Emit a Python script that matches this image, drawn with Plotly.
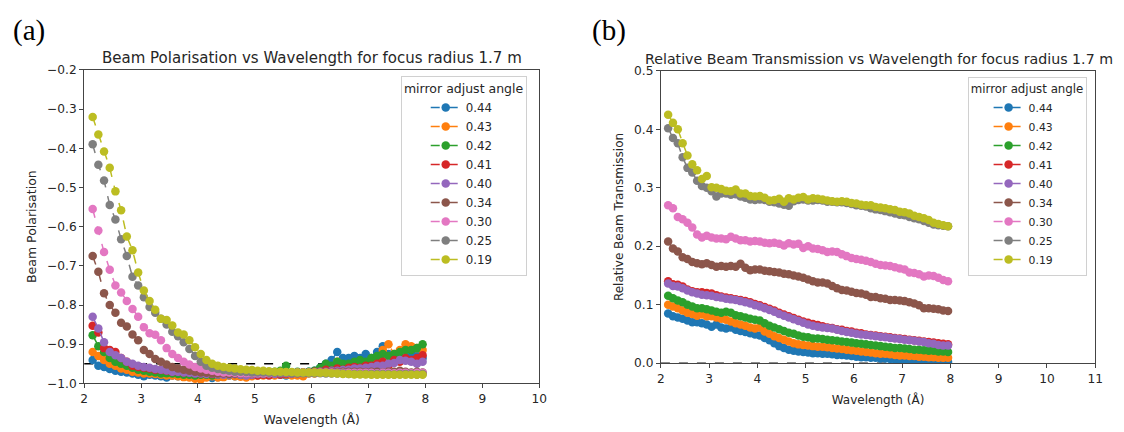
import plotly.graph_objects as go

wavelength = [2.15, 2.25, 2.35, 2.45, 2.55, 2.65, 2.75, 2.85, 2.95, 3.05,
              3.15, 3.25, 3.35, 3.45, 3.55, 3.65, 3.75, 3.85, 3.95, 4.05,
              4.15, 4.25, 4.35, 4.45, 4.55, 4.65, 4.75, 4.85, 4.95, 5.05,
              5.15, 5.25, 5.35, 5.45, 5.55, 5.65, 5.75, 5.85, 5.95, 6.05,
              6.15, 6.25, 6.35, 6.45, 6.55, 6.65, 6.75, 6.85, 6.95, 7.05,
              7.15, 7.25, 7.35, 7.45, 7.55, 7.65, 7.75, 7.85, 7.95]

angles = ["0.44", "0.43", "0.42", "0.41", "0.40", "0.34", "0.30", "0.25", "0.19"]
colors = ["#1f77b4", "#ff7f0e", "#2ca02c", "#d62728", "#9467bd",
          "#8c564b", "#e377c2", "#7f7f7f", "#bcbd22"]

# ---- Beam polarisation (panel a) ----
pol_044 = [-0.940, -0.955, -0.958, -0.963, -0.968, -0.970, -0.972, -0.975, -0.978, -0.982,
           -0.978, -0.980, -0.982, -0.985, -0.980, -0.982, -0.978, -0.980, -0.983, -0.985,
           -0.982, -0.986, -0.984, -0.982, -0.980, -0.982, -0.980, -0.978, -0.980, -0.978,
           -0.976, -0.978, -0.975, -0.978, -0.980, -0.976, -0.975, -0.972, -0.970, -0.968,
           -0.960, -0.950, -0.940, -0.920, -0.935, -0.935, -0.930, -0.935, -0.925, -0.935,
           -0.920, -0.905, -0.925, -0.935, -0.930, -0.935, -0.925, -0.930, -0.935]
pol_043 = [-0.920, -0.930, -0.940, -0.950, -0.955, -0.962, -0.965, -0.970, -0.972, -0.975,
           -0.975, -0.976, -0.978, -0.980, -0.980, -0.982, -0.984, -0.985, -0.988, -0.990,
           -0.985, -0.982, -0.985, -0.984, -0.980, -0.982, -0.983, -0.985, -0.982, -0.980,
           -0.980, -0.978, -0.980, -0.976, -0.978, -0.980, -0.980, -0.982, -0.975, -0.975,
           -0.972, -0.965, -0.960, -0.945, -0.960, -0.955, -0.950, -0.945, -0.950, -0.940,
           -0.935, -0.915, -0.900, -0.925, -0.915, -0.900, -0.905, -0.910, -0.915]
pol_042 = [-0.877, -0.905, -0.920, -0.935, -0.945, -0.950, -0.955, -0.960, -0.965, -0.968,
           -0.970, -0.972, -0.975, -0.974, -0.975, -0.976, -0.978, -0.978, -0.980, -0.978,
           -0.978, -0.980, -0.978, -0.976, -0.978, -0.976, -0.978, -0.975, -0.976, -0.972,
           -0.974, -0.972, -0.970, -0.968, -0.955, -0.972, -0.970, -0.972, -0.970, -0.968,
           -0.960, -0.950, -0.955, -0.945, -0.950, -0.950, -0.945, -0.940, -0.945, -0.935,
           -0.930, -0.925, -0.930, -0.925, -0.920, -0.915, -0.915, -0.910, -0.900]
pol_041 = [-0.853, -0.870, -0.910, -0.915, -0.920, -0.935, -0.945, -0.955, -0.958, -0.960,
           -0.962, -0.965, -0.966, -0.968, -0.970, -0.970, -0.972, -0.972, -0.974, -0.975,
           -0.975, -0.976, -0.975, -0.976, -0.975, -0.976, -0.976, -0.975, -0.978, -0.980,
           -0.978, -0.980, -0.976, -0.978, -0.976, -0.975, -0.974, -0.972, -0.972, -0.970,
           -0.970, -0.965, -0.968, -0.962, -0.965, -0.960, -0.958, -0.960, -0.955, -0.955,
           -0.950, -0.945, -0.955, -0.940, -0.945, -0.935, -0.940, -0.935, -0.928]
pol_040 = [-0.830, -0.860, -0.895, -0.920, -0.928, -0.935, -0.945, -0.950, -0.955, -0.958,
           -0.960, -0.963, -0.965, -0.967, -0.970, -0.970, -0.972, -0.973, -0.975, -0.975,
           -0.976, -0.975, -0.977, -0.978, -0.978, -0.976, -0.978, -0.980, -0.978, -0.976,
           -0.976, -0.975, -0.976, -0.975, -0.974, -0.975, -0.974, -0.973, -0.972, -0.972,
           -0.970, -0.970, -0.968, -0.968, -0.966, -0.965, -0.962, -0.962, -0.960, -0.958,
           -0.955, -0.955, -0.950, -0.948, -0.940, -0.942, -0.945, -0.950, -0.945]
pol_034 = [-0.675, -0.715, -0.770, -0.800, -0.820, -0.845, -0.855, -0.875, -0.890, -0.915,
           -0.925, -0.938, -0.945, -0.952, -0.958, -0.962, -0.965, -0.968, -0.970, -0.972,
           -0.973, -0.974, -0.975, -0.975, -0.976, -0.975, -0.975, -0.974, -0.975, -0.974,
           -0.974, -0.974, -0.973, -0.974, -0.973, -0.973, -0.972, -0.972, -0.972, -0.971,
           -0.971, -0.970, -0.970, -0.971, -0.970, -0.970, -0.970, -0.970, -0.971, -0.970,
           -0.970, -0.972, -0.970, -0.970, -0.968, -0.970, -0.972, -0.970, -0.972]
pol_030 = [-0.555, -0.610, -0.665, -0.710, -0.750, -0.768, -0.790, -0.810, -0.830, -0.857,
           -0.872, -0.876, -0.890, -0.910, -0.925, -0.935, -0.945, -0.952, -0.958, -0.962,
           -0.965, -0.968, -0.970, -0.972, -0.972, -0.973, -0.974, -0.974, -0.974, -0.974,
           -0.974, -0.974, -0.973, -0.973, -0.973, -0.973, -0.972, -0.972, -0.972, -0.972,
           -0.972, -0.972, -0.972, -0.973, -0.973, -0.973, -0.973, -0.973, -0.973, -0.973,
           -0.974, -0.973, -0.973, -0.974, -0.973, -0.973, -0.974, -0.973, -0.973]
pol_025 = [-0.390, -0.442, -0.482, -0.545, -0.582, -0.632, -0.675, -0.728, -0.750, -0.780,
           -0.805, -0.820, -0.835, -0.850, -0.868, -0.880, -0.895, -0.912, -0.930, -0.945,
           -0.955, -0.960, -0.963, -0.966, -0.968, -0.970, -0.970, -0.971, -0.972, -0.972,
           -0.972, -0.973, -0.973, -0.973, -0.973, -0.974, -0.974, -0.974, -0.974, -0.974,
           -0.974, -0.975, -0.975, -0.975, -0.975, -0.976, -0.976, -0.976, -0.976, -0.976,
           -0.976, -0.976, -0.976, -0.977, -0.976, -0.976, -0.976, -0.977, -0.976]
pol_019 = [-0.320, -0.365, -0.408, -0.450, -0.510, -0.558, -0.625, -0.660, -0.717, -0.763,
           -0.790, -0.812, -0.835, -0.838, -0.852, -0.870, -0.875, -0.890, -0.908, -0.925,
           -0.940, -0.950, -0.955, -0.958, -0.960, -0.962, -0.964, -0.965, -0.966, -0.968,
           -0.968, -0.969, -0.970, -0.970, -0.971, -0.971, -0.972, -0.972, -0.972, -0.972,
           -0.973, -0.973, -0.974, -0.975, -0.976, -0.976, -0.977, -0.977, -0.977, -0.978,
           -0.978, -0.978, -0.978, -0.978, -0.978, -0.978, -0.978, -0.978, -0.978]

# ---- Relative beam transmission (panel b) ----
tr_044 = [0.085, 0.080, 0.078, 0.076, 0.073, 0.070, 0.070, 0.068, 0.066, 0.062,
          0.066, 0.061, 0.059, 0.061, 0.057, 0.055, 0.053, 0.051, 0.049, 0.047,
          0.043, 0.039, 0.034, 0.029, 0.026, 0.023, 0.021, 0.020, 0.019, 0.018,
          0.017, 0.017, 0.016, 0.016, 0.015, 0.014, 0.014, 0.013, 0.012, 0.011,
          0.010, 0.010, 0.009, 0.009, 0.008, 0.008, 0.007, 0.006, 0.006, 0.005,
          0.005, 0.004, 0.004, 0.004, 0.003, 0.003, 0.003, 0.002, 0.002]
tr_043 = [0.100, 0.097, 0.094, 0.090, 0.086, 0.084, 0.081, 0.083, 0.080, 0.080,
          0.078, 0.076, 0.074, 0.071, 0.068, 0.066, 0.064, 0.061, 0.059, 0.061,
          0.054, 0.050, 0.046, 0.043, 0.040, 0.037, 0.034, 0.032, 0.031, 0.030,
          0.029, 0.028, 0.028, 0.027, 0.026, 0.025, 0.024, 0.023, 0.022, 0.021,
          0.020, 0.019, 0.018, 0.017, 0.016, 0.016, 0.015, 0.014, 0.013, 0.013,
          0.012, 0.012, 0.011, 0.011, 0.010, 0.010, 0.009, 0.009, 0.009]
tr_042 = [0.115, 0.111, 0.107, 0.104, 0.100, 0.097, 0.094, 0.094, 0.092, 0.090,
          0.088, 0.086, 0.088, 0.086, 0.082, 0.080, 0.078, 0.076, 0.074, 0.073,
          0.068, 0.064, 0.061, 0.058, 0.055, 0.052, 0.050, 0.047, 0.045, 0.044,
          0.042, 0.042, 0.041, 0.040, 0.039, 0.038, 0.037, 0.036, 0.035, 0.034,
          0.033, 0.032, 0.031, 0.030, 0.029, 0.028, 0.027, 0.026, 0.026, 0.025,
          0.024, 0.023, 0.023, 0.022, 0.021, 0.021, 0.020, 0.020, 0.019]
tr_041 = [0.140, 0.135, 0.134, 0.131, 0.126, 0.123, 0.121, 0.121, 0.120, 0.119,
          0.116, 0.114, 0.112, 0.111, 0.109, 0.108, 0.106, 0.104, 0.101, 0.099,
          0.096, 0.093, 0.090, 0.086, 0.083, 0.080, 0.077, 0.074, 0.071, 0.069,
          0.067, 0.065, 0.063, 0.061, 0.060, 0.058, 0.057, 0.055, 0.054, 0.052,
          0.051, 0.049, 0.048, 0.047, 0.046, 0.045, 0.044, 0.043, 0.042, 0.041,
          0.040, 0.039, 0.038, 0.037, 0.036, 0.035, 0.034, 0.033, 0.032]
tr_040 = [0.136, 0.132, 0.131, 0.128, 0.124, 0.121, 0.119, 0.117, 0.116, 0.115,
          0.113, 0.112, 0.110, 0.109, 0.108, 0.106, 0.104, 0.102, 0.099, 0.097,
          0.094, 0.091, 0.088, 0.084, 0.081, 0.078, 0.075, 0.072, 0.069, 0.066,
          0.064, 0.062, 0.061, 0.060, 0.059, 0.057, 0.055, 0.053, 0.052, 0.050,
          0.049, 0.048, 0.047, 0.046, 0.045, 0.044, 0.043, 0.042, 0.041, 0.040,
          0.039, 0.038, 0.037, 0.036, 0.034, 0.033, 0.031, 0.030, 0.030]
tr_034 = [0.208, 0.196, 0.191, 0.181, 0.178, 0.173, 0.171, 0.169, 0.171, 0.168,
          0.165, 0.166, 0.165, 0.166, 0.165, 0.170, 0.163, 0.159, 0.160, 0.160,
          0.158, 0.157, 0.156, 0.155, 0.153, 0.152, 0.150, 0.148, 0.146, 0.143,
          0.140, 0.138, 0.138, 0.136, 0.132, 0.128, 0.125, 0.124, 0.122, 0.120,
          0.119, 0.117, 0.113, 0.113, 0.111, 0.110, 0.108, 0.108, 0.107, 0.106,
          0.104, 0.102, 0.099, 0.094, 0.094, 0.093, 0.092, 0.090, 0.089]
tr_030 = [0.270, 0.265, 0.250, 0.246, 0.240, 0.232, 0.220, 0.215, 0.218, 0.215,
          0.213, 0.213, 0.212, 0.216, 0.213, 0.210, 0.210, 0.208, 0.209, 0.208,
          0.206, 0.205, 0.206, 0.204, 0.201, 0.205, 0.203, 0.204, 0.197, 0.200,
          0.196, 0.195, 0.193, 0.190, 0.191, 0.190, 0.186, 0.183, 0.180, 0.178,
          0.177, 0.175, 0.173, 0.170, 0.168, 0.167, 0.166, 0.164, 0.162, 0.160,
          0.155, 0.154, 0.152, 0.148, 0.150, 0.149, 0.146, 0.142, 0.140]
tr_025 = [0.402, 0.385, 0.376, 0.352, 0.334, 0.326, 0.312, 0.303, 0.300, 0.294,
          0.285, 0.290, 0.290, 0.288, 0.289, 0.285, 0.283, 0.280, 0.279, 0.280,
          0.279, 0.276, 0.275, 0.273, 0.271, 0.269, 0.277, 0.279, 0.280, 0.278,
          0.278, 0.279, 0.278, 0.276, 0.276, 0.275, 0.275, 0.274, 0.272, 0.270,
          0.269, 0.268, 0.265, 0.263, 0.262, 0.260, 0.258, 0.256, 0.254, 0.253,
          0.250, 0.248, 0.246, 0.243, 0.240, 0.237, 0.236, 0.235, 0.234]
tr_019 = [0.425, 0.411, 0.400, 0.376, 0.355, 0.340, 0.330, 0.315, 0.320, 0.301,
          0.300, 0.298, 0.295, 0.294, 0.297, 0.290, 0.290, 0.286, 0.285, 0.286,
          0.283, 0.278, 0.279, 0.281, 0.276, 0.282, 0.280, 0.283, 0.284, 0.280,
          0.282, 0.281, 0.280, 0.278, 0.277, 0.276, 0.277, 0.276, 0.274, 0.273,
          0.271, 0.270, 0.270, 0.267, 0.266, 0.265, 0.263, 0.262, 0.259, 0.258,
          0.256, 0.252, 0.250, 0.248, 0.245, 0.240, 0.238, 0.236, 0.234]

pol_series = [pol_044, pol_043, pol_042, pol_041, pol_040, pol_034, pol_030, pol_025, pol_019]
tr_series = [tr_044, tr_043, tr_042, tr_041, tr_040, tr_034, tr_030, tr_025, tr_019]

ref_x = [2, 8]
pol_ref = [-0.95, -0.95]
tr_ref = [0.0, 0.0]

FONT = "DejaVu Sans"
TXT = "#262626"

fig = go.Figure()

# reference dashed lines
fig.add_trace(go.Scatter(x=ref_x, y=pol_ref, mode="lines", showlegend=False,
                         line=dict(color="black", width=1.4, dash="dash"),
                         xaxis="x", yaxis="y", hoverinfo="skip"))
fig.add_trace(go.Scatter(x=ref_x, y=tr_ref, mode="lines", showlegend=False,
                         line=dict(color="#666666", width=1.4, dash="dash"),
                         xaxis="x2", yaxis="y2", hoverinfo="skip"))

for name, col, ys in zip(angles, colors, pol_series):
    fig.add_trace(go.Scatter(
        x=wavelength, y=ys, name=name, mode="lines+markers",
        line=dict(color=col, width=1.5, dash="dash"),
        marker=dict(color=col, size=8.5),
        xaxis="x", yaxis="y", legend="legend"))

for name, col, ys in zip(angles, colors, tr_series):
    fig.add_trace(go.Scatter(
        x=wavelength, y=ys, name=name, mode="lines+markers",
        line=dict(color=col, width=1.5, dash="dash"),
        marker=dict(color=col, size=8.5),
        xaxis="x2", yaxis="y2", legend="legend2"))

W, H = 1124, 432

def px_x(p):
    return p / W

def px_y(p):
    return 1 - p / H

axis_common = dict(showline=True, mirror=True, linecolor="#444444", linewidth=1,
                   ticks="outside", ticklen=4, tickcolor="#444444", showgrid=False,
                   zeroline=False, tickfont=dict(family=FONT, size=12.2, color=TXT))

fig.update_layout(
    width=W, height=H, margin=dict(l=0, r=0, t=0, b=0),
    paper_bgcolor="white", plot_bgcolor="white",
    font=dict(family=FONT, color=TXT),
    xaxis=dict(domain=[px_x(81), px_x(541)], range=[2, 10], dtick=1, anchor="y",
               title=dict(text="Wavelength (Å)", font=dict(family=FONT, size=12.5, color=TXT), standoff=10),
               **axis_common),
    yaxis=dict(domain=[px_y(389), px_y(65)], range=[-1.0, -0.2], dtick=0.1, tickformat=".1f",
               anchor="x",
               title=dict(text="Beam Polarisation", font=dict(family=FONT, size=12.5, color=TXT), standoff=7),
               **axis_common),
    xaxis2=dict(domain=[px_x(664), px_x(1103)], range=[2, 11], dtick=1, anchor="y2",
                title=dict(text="Wavelength (Å)", font=dict(family=FONT, size=12, color=TXT), standoff=10),
                **axis_common),
    yaxis2=dict(domain=[px_y(368), px_y(66)], range=[0, 0.5], dtick=0.1, tickformat=".1f",
                anchor="x2",
                title=dict(text="Relative Beam Transmission", font=dict(family=FONT, size=12, color=TXT), standoff=7),
                **axis_common),
    legend=dict(x=px_x(401), y=px_y(71), xanchor="left", yanchor="top",
                bordercolor="#d0d0d0", borderwidth=1, bgcolor="rgba(255,255,255,0.8)",
                indentation=24,
                title=dict(text="mirror adjust angle", side="top center",
                           font=dict(family=FONT, size=12.5, color=TXT)),
                font=dict(family=FONT, size=11.8, color=TXT), tracegroupgap=0),
    legend2=dict(x=px_x(974), y=px_y(72), xanchor="left", yanchor="top",
                 bordercolor="#d0d0d0", borderwidth=1, bgcolor="rgba(255,255,255,0.8)",
                 indentation=20,
                 title=dict(text="mirror adjust angle", side="top center",
                            font=dict(family=FONT, size=11.8, color=TXT)),
                 font=dict(family=FONT, size=10.8, color=TXT), tracegroupgap=0),
    annotations=[
        dict(text="Beam Polarisation vs Wavelength for focus radius 1.7 m",
             x=px_x(311), y=px_y(53), xref="paper", yref="paper",
             xanchor="center", yanchor="middle", showarrow=False,
             font=dict(family=FONT, size=15, color=TXT)),
        dict(text="Relative Beam Transmission vs Wavelength for focus radius 1.7 m",
             x=px_x(884), y=px_y(54), xref="paper", yref="paper",
             xanchor="center", yanchor="middle", showarrow=False,
             font=dict(family=FONT, size=14.2, color=TXT)),
        dict(text="(a)", x=px_x(25), y=px_y(24), xref="paper", yref="paper",
             xanchor="center", yanchor="middle", showarrow=False,
             font=dict(family="Liberation Serif", size=29, color="black")),
        dict(text="(b)", x=px_x(612), y=px_y(24), xref="paper", yref="paper",
             xanchor="center", yanchor="middle", showarrow=False,
             font=dict(family="Liberation Serif", size=29, color="black")),
    ],
)

fig.write_html("out.html")
